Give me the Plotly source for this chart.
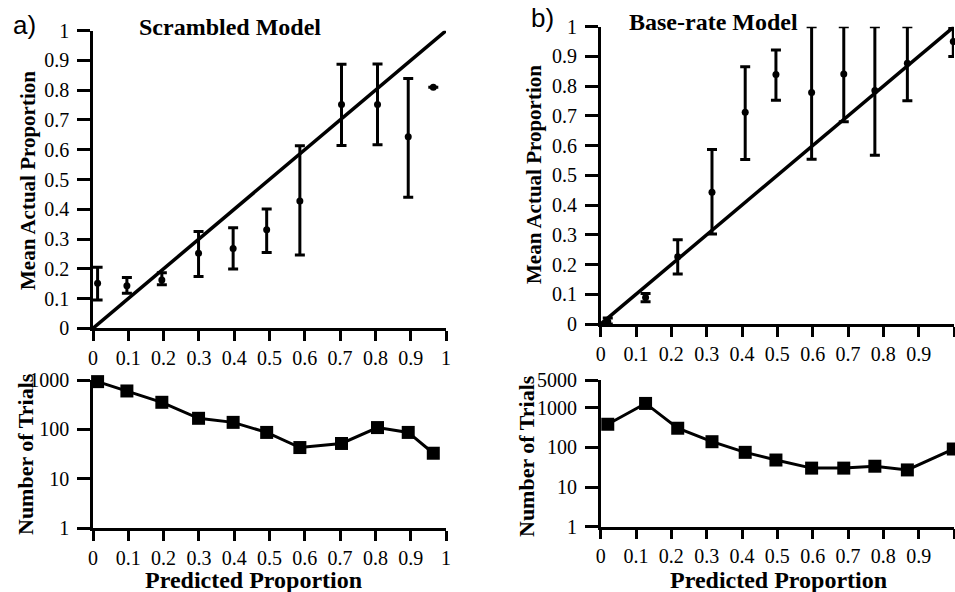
import plotly.graph_objects as go

# ---------------- data ----------------
a_pred = [0.013, 0.096, 0.195, 0.299, 0.397, 0.492, 0.586, 0.704, 0.806, 0.893, 0.964]
a_mean = [0.151, 0.143, 0.162, 0.252, 0.268, 0.331, 0.428, 0.752, 0.752, 0.644, 0.810]
a_upper = [0.205, 0.171, 0.187, 0.325, 0.338, 0.401, 0.613, 0.887, 0.888, 0.839, 0.810]
a_lower = [0.095, 0.118, 0.146, 0.174, 0.199, 0.255, 0.246, 0.614, 0.617, 0.440, 0.810]
a_trials = [927, 600, 354, 168, 139, 87, 43, 52, 109, 87, 33]

b_pred = [0.020, 0.127, 0.218, 0.315, 0.409, 0.496, 0.597, 0.688, 0.776, 0.868, 0.998]
b_mean = [0.008, 0.089, 0.226, 0.443, 0.712, 0.839, 0.779, 0.841, 0.785, 0.877, 0.950]
b_upper = [0.020, 0.103, 0.283, 0.587, 0.865, 0.922, 1.000, 1.000, 1.000, 1.000, 0.994]
b_lower = [0.000, 0.075, 0.168, 0.303, 0.553, 0.753, 0.554, 0.680, 0.568, 0.751, 0.900]
b_trials = [383, 1283, 304, 139, 75, 48, 30, 30, 33.5, 27, 91]

ideal_x = [0, 1]
ideal_y = [0, 1]

prop_ticks = [0, 0.1, 0.2, 0.3, 0.4, 0.5, 0.6, 0.7, 0.8, 0.9, 1]
prop_labels = ["0", "0.1", "0.2", "0.3", "0.4", "0.5", "0.6", "0.7", "0.8", "0.9", "1"]
trials_ticks_a = [1, 10, 100, 1000]
trials_labels_a = ["1", "10", "100", "1000"]
trials_ticks_b = [1, 10, 100, 1000, 5000]
trials_labels_b = ["1", "10", "100", "1000", "5000"]

titles = ["Scrambled Model", "Base-rate Model"]
panel_tags = ["a)", "b)"]
ylab_top = "Mean Actual Proportion"
ylab_bot = "Number of Trials"
xlab = "Predicted Proportion"

# ---------------- layout geometry ----------------
W, H = 955, 592
def px(x):
    return x / W
def py(y):
    return 1 - y / H

SERIF = "Liberation Serif"
tickfont = dict(family=SERIF, size=20, color="black")

fig = go.Figure()

def err(mean, upper, lower):
    plus = [u - m for u, m in zip(upper, mean)]
    minus = [m - l for m, l in zip(mean, lower)]
    return plus, minus

# panel a top
pa, ma = err(a_mean, a_upper, a_lower)
fig.add_trace(go.Scatter(x=ideal_x, y=ideal_y, mode="lines", line=dict(color="black", width=3.5),
                         xaxis="x", yaxis="y", showlegend=False, cliponaxis=False))
fig.add_trace(go.Scatter(x=a_pred, y=a_mean, mode="markers",
                         marker=dict(color="black", size=7),
                         error_y=dict(type="data", array=pa, arrayminus=ma, color="black",
                                      thickness=3, width=5),
                         xaxis="x", yaxis="y", showlegend=False, cliponaxis=False))
# panel a bottom
fig.add_trace(go.Scatter(x=a_pred, y=a_trials, mode="lines+markers",
                         line=dict(color="black", width=3),
                         marker=dict(color="black", size=13, symbol="square"),
                         xaxis="x2", yaxis="y2", showlegend=False, cliponaxis=False))
# panel b top
pb, mb = err(b_mean, b_upper, b_lower)
fig.add_trace(go.Scatter(x=ideal_x, y=ideal_y, mode="lines", line=dict(color="black", width=3.5),
                         xaxis="x3", yaxis="y3", showlegend=False, cliponaxis=False))
fig.add_trace(go.Scatter(x=b_pred, y=b_mean, mode="markers",
                         marker=dict(color="black", size=7),
                         error_y=dict(type="data", array=pb, arrayminus=mb, color="black",
                                      thickness=3, width=5),
                         xaxis="x3", yaxis="y3", showlegend=False, cliponaxis=False))
# panel b bottom
fig.add_trace(go.Scatter(x=b_pred, y=b_trials, mode="lines+markers",
                         line=dict(color="black", width=3),
                         marker=dict(color="black", size=13, symbol="square"),
                         xaxis="x4", yaxis="y4", showlegend=False, cliponaxis=False))

def xax(dom, anchor):
    return dict(domain=dom, anchor=anchor, range=[0, 1], tickmode="array", automargin=False,
                tickvals=prop_ticks, ticktext=prop_labels, showline=True, linecolor="black",
                linewidth=2.5, ticks="outside", ticklen=10, tickwidth=2.5, tickcolor="black",
                showgrid=False, zeroline=False, tickfont=tickfont, ticklabelstandoff=0)

def yax(dom, anchor, rng, vals, labels, typ="linear"):
    return dict(domain=dom, anchor=anchor, range=rng, type=typ, tickmode="array", automargin=False,
                tickvals=vals, ticktext=labels, showline=True, linecolor="black",
                linewidth=2.5, ticks="outside", ticklen=13, tickwidth=2.5, tickcolor="black",
                showgrid=False, zeroline=False, tickfont=tickfont, ticklabelstandoff=4)

xa = [px(93), px(446)]
xb = [px(600.7), px(954)]
fig.update_layout(
    width=W, height=H,
    margin=dict(l=0, r=0, t=0, b=0, pad=0),
    paper_bgcolor="white", plot_bgcolor="white",
    xaxis=xax(xa, "y"),
    yaxis=yax([py(328.3), py(30.7)], "x", [0, 1], prop_ticks, prop_labels),
    xaxis2=xax(xa, "y2"),
    yaxis2=yax([py(528.3), py(380)], "x2", [0, 3], trials_ticks_a, trials_labels_a, "log"),
    xaxis3=xax(xb, "y3"),
    yaxis3=yax([py(324), py(26.7)], "x3", [0, 1], prop_ticks, prop_labels),
    xaxis4=xax(xb, "y4"),
    yaxis4=yax([py(526.7), py(380)], "x4", [0, 3.699], trials_ticks_b, trials_labels_b, "log"),
)

def ann(text, x, y, size, bold=True, angle=0, family=SERIF):
    fig.add_annotation(text=("<b>%s</b>" % text) if bold else text,
                       x=px(x), y=py(y), xref="paper", yref="paper",
                       xanchor="center", yanchor="middle", showarrow=False, textangle=angle,
                       font=dict(family=family, size=size, color="black"))

ann(titles[0], 230, 27, 24)
ann(titles[1], 713, 22, 24)
ann(panel_tags[0], 24, 25, 26, bold=False, family="Liberation Sans")
ann(panel_tags[1], 542, 18, 26, bold=False, family="Liberation Sans")
ann(ylab_top, 28, 181, 21, angle=-90)
ann(ylab_top, 534, 175, 21, angle=-90)
ann(ylab_bot, 25, 454, 22, angle=-90)
ann(ylab_bot, 526, 456, 22, angle=-90)
ann(xlab, 254, 580, 24)
ann(xlab, 778, 580, 24)

fig.write_html("out.html")
